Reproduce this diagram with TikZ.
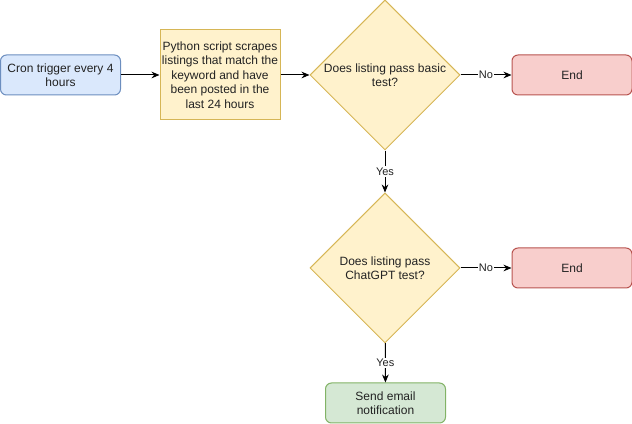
\documentclass[tikz,border=0pt]{standalone}
\usepackage{fontspec}
\setmainfont{Liberation Sans}
\usepackage{xcolor}
\usetikzlibrary{arrows.meta, positioning, shapes.geometric}

\definecolor{blueFill}{HTML}{DAE8FC}
\definecolor{blueLine}{HTML}{6C8EBF}
\definecolor{yellowFill}{HTML}{FFF2CC}
\definecolor{yellowLine}{HTML}{D6B656}
\definecolor{redFill}{HTML}{F8CECC}
\definecolor{redLine}{HTML}{B85450}
\definecolor{greenFill}{HTML}{D5E8D4}
\definecolor{greenLine}{HTML}{82B366}
\definecolor{textGray}{HTML}{222222}

\begin{document}
\begin{tikzpicture}[
  x=0.75pt, y=0.75pt,
  every node/.style={font=\fontsize{9}{10.8}\selectfont, text=textGray},
  box/.style={draw, line width=0.75pt, minimum height=30pt, minimum width=90pt,
              align=center, inner sep=0pt},
  roundbox/.style={box, rounded corners=4.5pt},
  decision/.style={draw, line width=0.75pt, diamond, aspect=1,
                   minimum width=112.5pt, minimum height=112.5pt,
                   align=center, inner sep=0pt,
                   fill=yellowFill, draw=yellowLine},
  arr/.style={-{Stealth[length=6pt, width=5pt]}, line width=0.75pt},
  lbl/.style={fill=white, inner sep=1pt, font=\fontsize{8.25}{9.9}\selectfont},
]
  \useasboundingbox (0,0) rectangle (632,424);

  \node[roundbox, fill=blueFill, draw=blueLine] (cron) at (60.5, 349)
       {Cron trigger every 4\\hours};

  \node[box, fill=yellowFill, draw=yellowLine, minimum height=67.5pt] (scrape) at (220, 349)
       {Python script scrapes\\listings that match the\\keyword and have\\been posted in the\\last 24 hours};
  \draw[arr] (cron) -- (scrape);

  \node[decision] (basic) at (385, 349)
       {Does listing pass basic\\test?};
  \draw[arr] (scrape) -- (basic);

  \node[roundbox, fill=redFill, draw=redLine] (end1) at (572, 349) {End};
  \draw[arr] (basic) -- node[lbl] {No} (end1);

  \node[decision] (gpt) at (385, 156)
       {Does listing pass\\ChatGPT test?};
  \draw[arr] (basic) -- node[lbl] {Yes} (gpt);

  \node[roundbox, fill=redFill, draw=redLine] (end2) at (572, 156) {End};
  \draw[arr] (gpt) -- node[lbl] {No} (end2);

  \node[roundbox, fill=greenFill, draw=greenLine] (email) at (385.5, 21)
       {Send email\\notification};
  \draw[arr] (gpt) -- node[lbl] {Yes} (email);
\end{tikzpicture}
\end{document}
